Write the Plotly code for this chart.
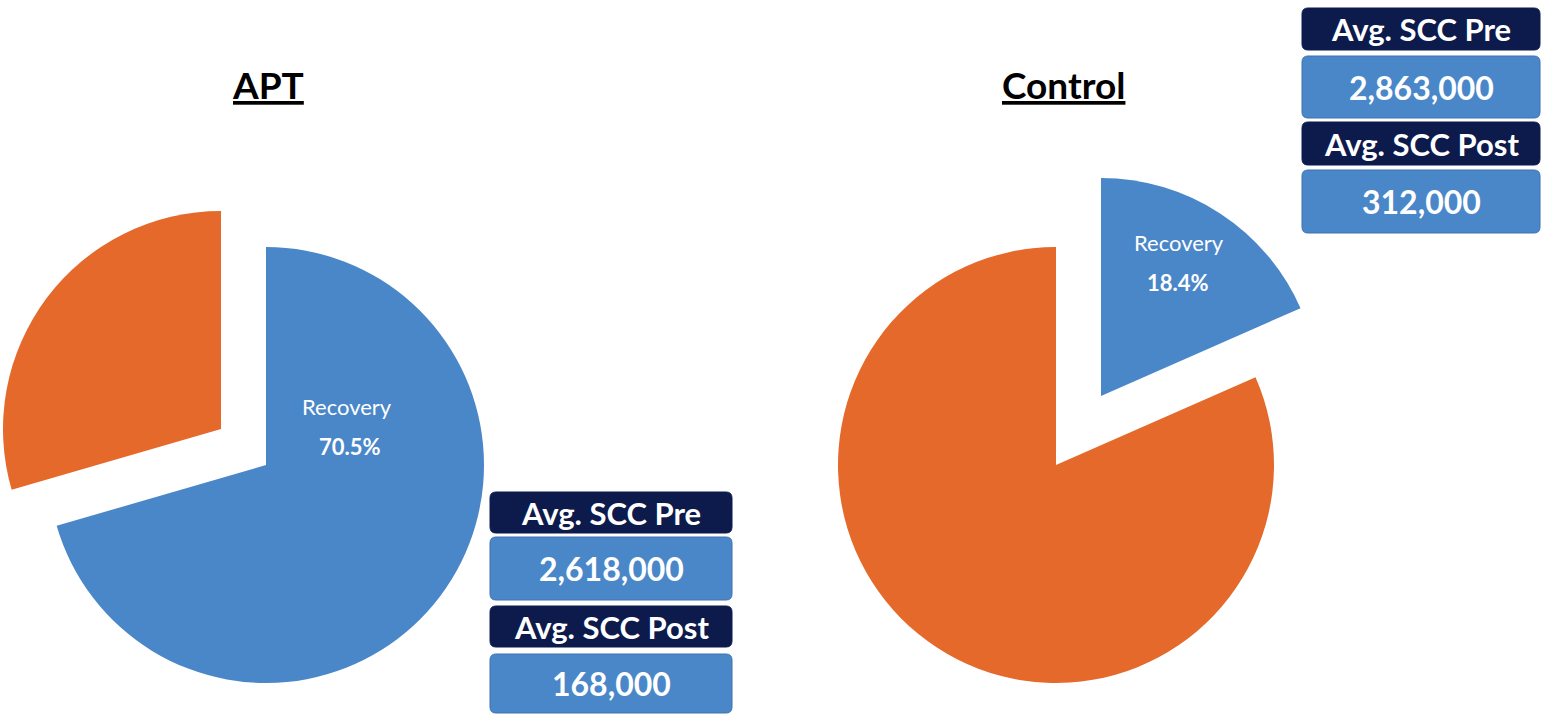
import plotly.graph_objects as go

# ---------------- data ----------------
groups = ["APT", "Control"]
slice_labels = ["Recovery", "No recovery"]
recovery_pct = [70.5, 18.4]
scc_pre = [2618000, 2863000]
scc_post = [168000, 312000]
box_titles = ["Avg. SCC Pre", "Avg. SCC Post"]

# ---------------- style ----------------
W, H = 1542, 715
BLUE = "#4a87c9"
ORANGE = "#e4692a"
NAVY = "#0c1a4c"
BLUE_EDGE = "#3c72ae"
FONT = "Lato"
CLEAR = "rgba(0,0,0,0)"


def px(x):
    return x / W


def py(y):
    return 1 - y / H


def dom(cx, cy, r):
    x0 = max(0.0, px(cx - r)); x1 = min(1.0, px(cx + r))
    y0 = max(0.0, py(cy + r)); y1 = min(1.0, py(cy - r))
    return dict(x=[x0, x1], y=[y0, y1])


fig = go.Figure()

R = 218
# pie layout: (center of main slice, center of exploded slice, which slice exploded)
pie_geo = [
    dict(main=(266, 465), pulled=(221, 429), pulled_idx=1),
    dict(main=(1056, 465), pulled=(1101, 396), pulled_idx=0),
]

for g, rec, geo in zip(groups, recovery_pct, pie_geo):
    vals = [rec, round(100 - rec, 1)]
    colors = [BLUE, ORANGE]
    for part in ("main", "pulled"):
        pidx = geo["pulled_idx"]
        if part == "pulled":
            cols = [c if i == pidx else CLEAR for i, c in enumerate(colors)]
        else:
            cols = [c if i != pidx else CLEAR for i, c in enumerate(colors)]
        cx, cy = geo[part]
        fig.add_trace(go.Pie(
            labels=slice_labels, values=vals, sort=False, direction="clockwise",
            rotation=0, textinfo="none", hoverinfo="label+percent",
            marker=dict(colors=cols, line=dict(width=0)),
            domain=dom(cx, cy, R), showlegend=False, name=g,
        ))

annotations = []
shapes = []

# titles
title_pos = [(268, 84), (1063, 84)]
for g, (tx, ty) in zip(groups, title_pos):
    annotations.append(dict(
        x=px(tx), y=py(ty), xref="paper", yref="paper", showarrow=False,
        text=f"<b><u>{g}</u></b>", font=dict(family=FONT, size=37, color="black"),
        xanchor="center", yanchor="middle"))

# slice labels
label_pos = [((347, 406), (350, 446)), ((1179, 242), (1178, 282))]
for rec, (p1, p2) in zip(recovery_pct, label_pos):
    annotations.append(dict(x=px(p1[0]), y=py(p1[1]), xref="paper", yref="paper",
                            showarrow=False, text=slice_labels[0],
                            xanchor="center", yanchor="middle",
                            font=dict(family=FONT, size=22, color="white")))
    annotations.append(dict(x=px(p2[0]), y=py(p2[1]), xref="paper", yref="paper",
                            showarrow=False, text=f"<b>{rec}%</b>",
                            xanchor="center", yanchor="middle",
                            font=dict(family=FONT, size=22, color="white")))


def rrect(x0, y0, x1, y1, r, fill, line):
    rx, ry = r / W, r / H
    X0, X1 = px(x0), px(x1)
    Y0, Y1 = py(y0), py(y1)  # Y0 top, Y1 bottom
    p = (f"M {X0+rx},{Y0} L {X1-rx},{Y0} Q {X1},{Y0} {X1},{Y0-ry} "
         f"L {X1},{Y1+ry} Q {X1},{Y1} {X1-rx},{Y1} "
         f"L {X0+rx},{Y1} Q {X0},{Y1} {X0},{Y1+ry} "
         f"L {X0},{Y0-ry} Q {X0},{Y0} {X0+rx},{Y0} Z")
    return dict(type="path", path=p, xref="paper", yref="paper",
                fillcolor=fill, line=dict(color=line, width=1), layer="above")


# stat boxes: x range, and y ranges for [navy1, blue1, navy2, blue2]
box_geo = [
    dict(x=(490, 732), ys=[(492, 533), (537, 600), (606, 647), (654, 713)]),
    dict(x=(1302, 1540), ys=[(8, 50), (56, 118), (122, 165), (170, 233)]),
]
for pre, post, bg in zip(scc_pre, scc_post, box_geo):
    x0, x1 = bg["x"]
    texts = [box_titles[0], f"{pre:,}", box_titles[1], f"{post:,}"]
    for i, ((y0, y1), t) in enumerate(zip(bg["ys"], texts)):
        navy = i % 2 == 0
        shapes.append(rrect(x0, y0, x1, y1, 6, NAVY if navy else BLUE,
                            NAVY if navy else BLUE_EDGE))
        annotations.append(dict(
            x=px((x0 + x1) / 2), y=py((y0 + y1) / 2), xref="paper", yref="paper",
            showarrow=False, text=f"<b>{t}</b>",
            font=dict(family=FONT, size=31 if navy else 32, color="white"),
            xanchor="center", yanchor="middle"))

fig.update_layout(
    width=W, height=H, margin=dict(l=0, r=0, t=0, b=0),
    paper_bgcolor="white", plot_bgcolor="white",
    annotations=annotations, shapes=shapes,
)

fig.write_html("out.html", config={"displayModeBar": False},
               post_script="document.body.style.margin='0px';")
